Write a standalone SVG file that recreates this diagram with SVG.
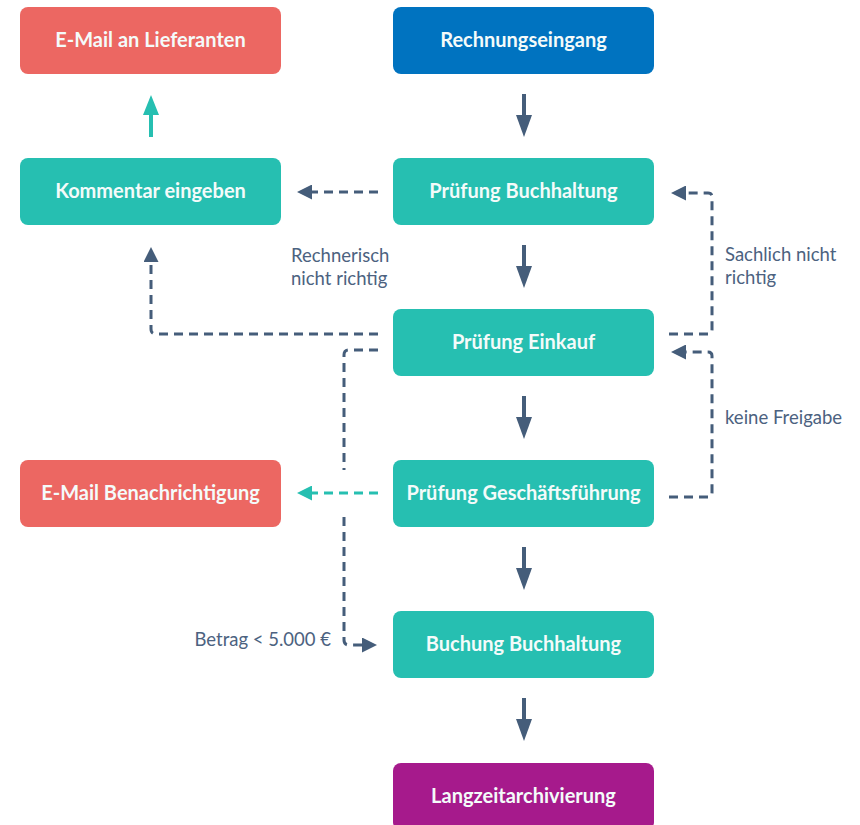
<svg xmlns="http://www.w3.org/2000/svg" width="860" height="825" viewBox="0 0 860 825">
<style>
.n text{font-family:Lato,"Liberation Sans",sans-serif;font-weight:700;font-size:20px;fill:#f4fbfa;text-anchor:middle;dominant-baseline:central}
.lbl{font-family:Lato,"Liberation Sans",sans-serif;font-size:18.5px;fill:#4c6280}
.solid{stroke:#455d7a;stroke-width:4;fill:none}
.dash{stroke:#455d7a;stroke-width:3;fill:none;stroke-dasharray:9 6}
.tdash{stroke:#26bfb1;stroke-width:3;fill:none;stroke-dasharray:9 6}
.tsolid{stroke:#26bfb1;stroke-width:4;fill:none}
</style>
<defs>
<marker id="ah" markerUnits="userSpaceOnUse" markerWidth="22" markerHeight="16" refX="0" refY="8" orient="auto" viewBox="0 0 22 16"><path d="M0,0 L22,8 L0,16 z" fill="#455d7a"/></marker>
<marker id="ahd" markerUnits="userSpaceOnUse" markerWidth="15" markerHeight="15" refX="0" refY="7.5" orient="auto" viewBox="0 0 15 15"><path d="M0,0 L15,7.5 L0,15 z" fill="#455d7a"/></marker>
<marker id="aht" markerUnits="userSpaceOnUse" markerWidth="15" markerHeight="15" refX="0" refY="7.5" orient="auto" viewBox="0 0 15 15"><path d="M0,0 L15,7.5 L0,15 z" fill="#26bfb1"/></marker>
<marker id="ahtu" markerUnits="userSpaceOnUse" markerWidth="20" markerHeight="16" refX="0" refY="8" orient="auto" viewBox="0 0 20 16"><path d="M0,0 L20,8 L0,16 z" fill="#26bfb1"/></marker>
</defs>
<g id="connectors">
<path class="solid" d="M524,94 V115" marker-end="url(#ah)"/>
<path class="solid" d="M524,245 V266" marker-end="url(#ah)"/>
<path class="solid" d="M524,396 V417" marker-end="url(#ah)"/>
<path class="solid" d="M524,547 V568" marker-end="url(#ah)"/>
<path class="solid" d="M524,698 V719" marker-end="url(#ah)"/>
<path class="tsolid" d="M151,137 V115" marker-end="url(#ahtu)"/>
<path class="dash" d="M378,192 H312" marker-end="url(#ahd)"/>
<path class="tdash" d="M378,493 H312" marker-end="url(#aht)"/>
<path class="dash" d="M669,334 H708 Q712,334 712,330 V197 Q712,193 708,193 H686" marker-end="url(#ahd)"/>
<path class="dash" d="M669,497 H708 Q712,497 712,493 V356 Q712,352 708,352 H686" marker-end="url(#ahd)"/>
<path class="dash" d="M378,334 H156 Q151,334 151,329 V262" marker-end="url(#ahd)"/>
<path class="dash" d="M378,350 H349 Q344,350 344,355 V470"/>
<path class="dash" d="M344,517 V640 Q344,645 349,645 H362" marker-end="url(#ahd)"/>
</g>
<g id="labels">
<text class="lbl" x="291" y="262">Rechnerisch</text>
<text class="lbl" x="291" y="285">nicht richtig</text>
<text class="lbl" x="725" y="261">Sachlich nicht</text>
<text class="lbl" x="725" y="284">richtig</text>
<text class="lbl" x="725" y="424">keine Freigabe</text>
<text class="lbl" x="331" y="646" text-anchor="end">Betrag &lt; 5.000 €</text>
</g>
<g id="n-email-lieferanten" class="n"><rect x="20" y="7" width="261" height="67" rx="8" fill="#ec6762"/><text x="150.5" y="39">E-Mail an Lieferanten</text></g>
<g id="n-rechnungseingang" class="n"><rect x="393" y="7" width="261" height="67" rx="8" fill="#0073c0"/><text x="523.5" y="39">Rechnungseingang</text></g>
<g id="n-kommentar" class="n"><rect x="20" y="158" width="261" height="67" rx="8" fill="#26bfb1"/><text x="150.5" y="190">Kommentar eingeben</text></g>
<g id="n-pruefung-buchhaltung" class="n"><rect x="393" y="158" width="261" height="67" rx="8" fill="#26bfb1"/><text x="523.5" y="190">Prüfung Buchhaltung</text></g>
<g id="n-pruefung-einkauf" class="n"><rect x="393" y="309" width="261" height="67" rx="8" fill="#26bfb1"/><text x="523.5" y="341">Prüfung Einkauf</text></g>
<g id="n-email-benachrichtigung" class="n"><rect x="20" y="460" width="261" height="67" rx="8" fill="#ec6762"/><text x="150.5" y="492">E-Mail Benachrichtigung</text></g>
<g id="n-pruefung-gf" class="n"><rect x="393" y="460" width="261" height="67" rx="8" fill="#26bfb1"/><text x="523.5" y="492">Prüfung Geschäftsführung</text></g>
<g id="n-buchung" class="n"><rect x="393" y="611" width="261" height="67" rx="8" fill="#26bfb1"/><text x="523.5" y="643">Buchung Buchhaltung</text></g>
<g id="n-archiv" class="n"><rect x="393" y="763" width="261" height="67" rx="8" fill="#a61a8c"/><text x="523.5" y="795">Langzeitarchivierung</text></g>
</svg>
